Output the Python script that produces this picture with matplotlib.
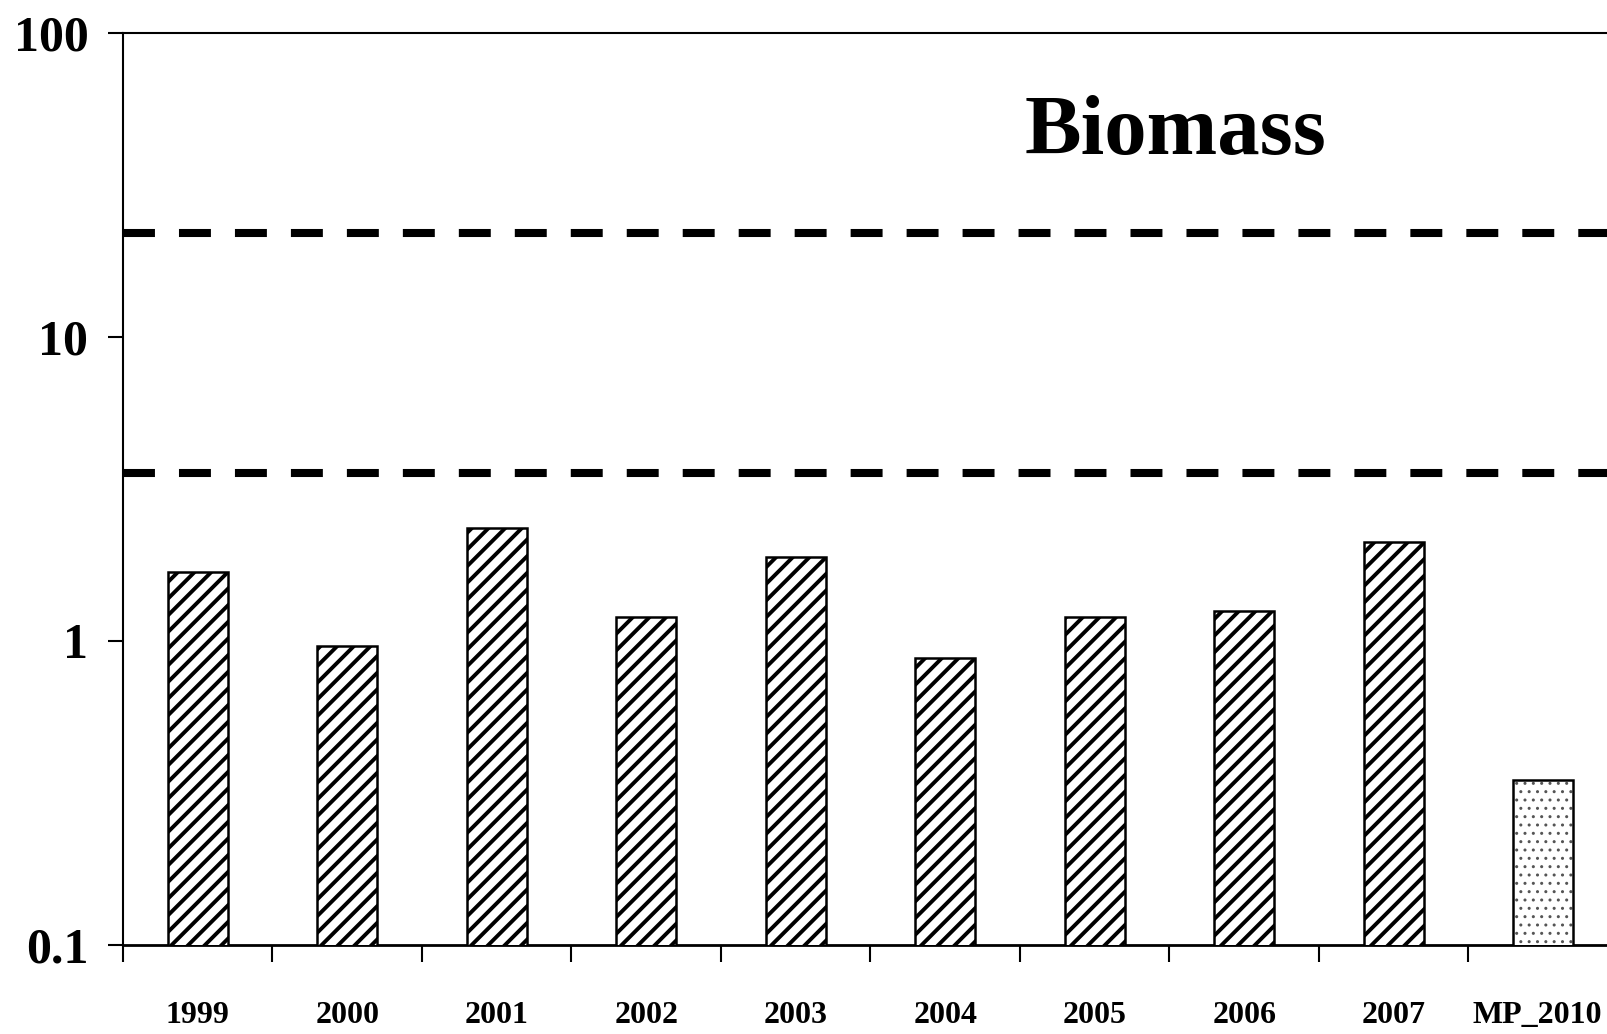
import matplotlib
matplotlib.use('Agg')
import matplotlib.pyplot as plt
import matplotlib.transforms as mtransforms
import numpy as np
from matplotlib.ticker import NullLocator, FixedLocator

# donnees
categories = ['1999', '2000', '2001', '2002', '2003', '2004', '2005', '2006', '2007', 'MP_2010']
biomass = [1.69, 0.96, 2.35, 1.20, 1.89, 0.88, 1.20, 1.255, 2.12, 0.35]
limits = [3.57, 22.0]
y_ticks = [0.1, 1, 10, 100]
y_labels = ['0.1', '1', '10', '100']

plt.rcParams['font.family'] = ['Liberation Serif', 'DejaVu Serif']
plt.rcParams['font.weight'] = 'bold'
plt.rcParams['lines.scale_dashes'] = False

W, H = 1608, 1034
fig = plt.figure(figsize=(W / 100, H / 100), dpi=100)
ax = fig.add_axes([123 / W, 89 / H, 1495 / W, 912 / H])

x = np.arange(len(categories))
width = 0.4

# barres hachurees (annees)
with plt.rc_context({'hatch.linewidth': 2.8}):
    years = ax.bar(x[:-1], biomass[:-1], width, color='white', edgecolor='black',
                   hatch='//', linewidth=1.8, zorder=3)
for b in years:
    if hasattr(b, 'set_hatch_linewidth'):
        b.set_hatch_linewidth(2.8)

# barre pointillee (MP_2010)
with plt.rc_context({'hatch.linewidth': 1.0}):
    dots = ax.bar(x[-1:], biomass[-1:], width, color='white', edgecolor='#555555',
                  hatch='..', linewidth=0, zorder=3)
for b in dots:
    if hasattr(b, 'set_hatch_linewidth'):
        b.set_hatch_linewidth(1.0)
ax.bar(x[-1:], biomass[-1:], width, facecolor='none', edgecolor='black',
       linewidth=1.8, zorder=4)

# lignes de reference
for lim in limits:
    ax.axhline(lim, color='black', linewidth=5.8, linestyle=(0, (23, 17.3)), zorder=2)

ax.set_yscale('log')
ax.set_ylim(0.1, 100)
ax.set_xlim(-0.5, len(categories) - 0.5)

ax.yaxis.set_major_locator(FixedLocator(y_ticks))
ax.set_yticklabels(y_labels)
ax.yaxis.set_minor_locator(NullLocator())
ax.tick_params(axis='y', which='major', direction='out', length=11, width=1.5,
               labelsize=36, pad=14)

# graduations entre les categories, etiquettes au centre
ax.set_xticks(np.arange(len(categories) + 1) - 0.5)
ax.set_xticklabels([])
ax.set_xticks(x, minor=True)
ax.set_xticklabels(categories, minor=True)
ax.tick_params(axis='x', which='major', direction='out', length=12, width=1.5)
ax.tick_params(axis='x', which='minor', length=0, labelsize=23, pad=40)

# decaler un peu MP_2010 pour qu'il reste dans l'image
last = ax.get_xticklabels(minor=True)[-1]
last.set_transform(last.get_transform() +
                   mtransforms.ScaledTranslation(-6 / 100, 0, fig.dpi_scale_trans))

for side in ['left', 'top']:
    ax.spines[side].set_linewidth(1.5)
ax.spines['bottom'].set_linewidth(2.0)
ax.spines['right'].set_visible(False)

fig.text(1025 / W, 1 - 154 / H, 'Biomass', fontsize=61, fontweight='bold',
         ha='left', va='baseline')

fig.savefig('out.png', dpi=100)
